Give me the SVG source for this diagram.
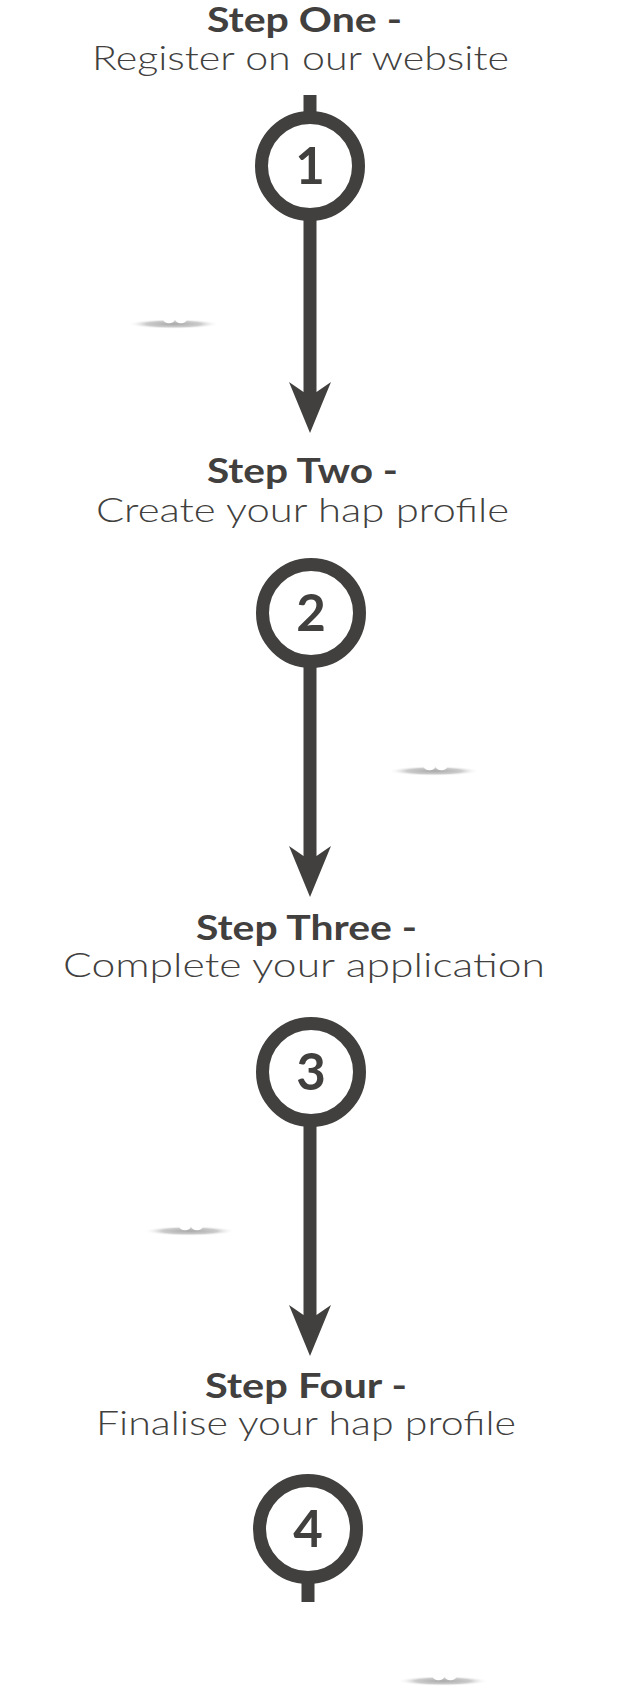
<svg xmlns="http://www.w3.org/2000/svg" width="630" height="1688" viewBox="0 0 630 1688">
<style>
  .title { font-family: Lato, "Liberation Sans", "DejaVu Sans", sans-serif; font-weight: 700; font-size: 34px; fill: #41403e; }
  .sub { font-family: Lato, "Liberation Sans", "DejaVu Sans", sans-serif; font-weight: 300; font-size: 33px; fill: #41403e; }
  .ring { fill: #ffffff; stroke: #41403e; stroke-width: 13; }
  .num { font-family: Lato, "Liberation Sans", "DejaVu Sans", sans-serif; font-weight: 700; font-size: 51px; fill: #41403e; text-anchor: middle; }
  .stem { stroke: #41403e; stroke-width: 13; fill: none; }
  .arrow { stroke: #41403e; stroke-width: 13; fill: none; marker-end: url(#head); }
  .shadow { fill: url(#shadowGrad); }
  .bump { fill: #ffffff; filter: url(#soft); }
</style>
<defs>
  <marker id="head" markerUnits="userSpaceOnUse" markerWidth="51" markerHeight="42" viewBox="0 0 51 42" refX="10" refY="21" orient="auto">
    <path d="M0,0 L51,21 L0,42 L10,27.5 L10,14.5 Z" fill="#41403e"/>
  </marker>
  <radialGradient id="shadowGrad" cx="0.5" cy="0.5" r="0.5">
    <stop offset="0" stop-color="#a9a9a9"/>
    <stop offset="0.6" stop-color="#cccccc"/>
    <stop offset="1" stop-color="#ffffff" stop-opacity="0"/>
  </radialGradient>
  <filter id="soft" x="-50%" y="-50%" width="200%" height="200%">
    <feGaussianBlur stdDeviation="0.6"/>
  </filter>
</defs>
<rect x="0" y="0" width="630" height="1688" fill="#ffffff"/>

<g id="shadows">
  <g id="shadow-1">
    <ellipse class="shadow" cx="173.5" cy="324" rx="46" ry="5"/>
    <ellipse class="bump" cx="169" cy="320" rx="5.5" ry="3.2"/>
    <ellipse class="bump" cx="181" cy="320" rx="5.5" ry="3.2"/>
  </g>
  <g id="shadow-2">
    <ellipse class="shadow" cx="434" cy="771" rx="46" ry="5"/>
    <ellipse class="bump" cx="429.5" cy="767" rx="5.5" ry="3.2"/>
    <ellipse class="bump" cx="441.5" cy="767" rx="5.5" ry="3.2"/>
  </g>
  <g id="shadow-3">
    <ellipse class="shadow" cx="189.5" cy="1231" rx="46" ry="5"/>
    <ellipse class="bump" cx="185" cy="1227" rx="5.5" ry="3.2"/>
    <ellipse class="bump" cx="197" cy="1227" rx="5.5" ry="3.2"/>
  </g>
  <g id="shadow-4">
    <ellipse class="shadow" cx="443" cy="1681" rx="46" ry="5"/>
    <ellipse class="bump" cx="438.5" cy="1677" rx="5.5" ry="3.2"/>
    <ellipse class="bump" cx="450.5" cy="1677" rx="5.5" ry="3.2"/>
  </g>
</g>

<g id="connectors">
  <line class="stem" x1="310" y1="95" x2="310" y2="112"/>
  <line class="arrow" x1="310" y1="220" x2="310" y2="392"/>
  <line class="arrow" x1="310" y1="667" x2="310" y2="856"/>
  <line class="arrow" x1="310" y1="1126" x2="310" y2="1315"/>
  <line class="stem" x1="308" y1="1582" x2="308" y2="1602"/>
</g>

<g id="step-1">
  <text class="title" x="207" y="32" textLength="195" lengthAdjust="spacingAndGlyphs">Step One -</text>
  <text class="sub" x="92" y="70" textLength="417" lengthAdjust="spacingAndGlyphs">Register on our website</text>
  <circle class="ring" cx="310" cy="166" r="48.5"/>
  <text class="num" x="310" y="184">1</text>
</g>

<g id="step-2">
  <text class="title" x="207" y="483" textLength="191" lengthAdjust="spacingAndGlyphs">Step Two -</text>
  <text class="sub" x="96" y="522" textLength="413" lengthAdjust="spacingAndGlyphs">Create your hap profile</text>
  <circle class="ring" cx="311" cy="613" r="48.5"/>
  <text class="num" x="311" y="631">2</text>
</g>

<g id="step-3">
  <text class="title" x="196" y="940" textLength="221" lengthAdjust="spacingAndGlyphs">Step Three -</text>
  <text class="sub" x="63" y="977" textLength="482" lengthAdjust="spacingAndGlyphs">Complete your application</text>
  <circle class="ring" cx="311" cy="1072" r="48.5"/>
  <text class="num" x="311" y="1090">3</text>
</g>

<g id="step-4">
  <text class="title" x="205" y="1398" textLength="202" lengthAdjust="spacingAndGlyphs">Step Four -</text>
  <text class="sub" x="96" y="1435" textLength="420" lengthAdjust="spacingAndGlyphs">Finalise your hap profile</text>
  <circle class="ring" cx="308" cy="1529" r="48.5"/>
  <text class="num" x="308" y="1547">4</text>
</g>
</svg>
